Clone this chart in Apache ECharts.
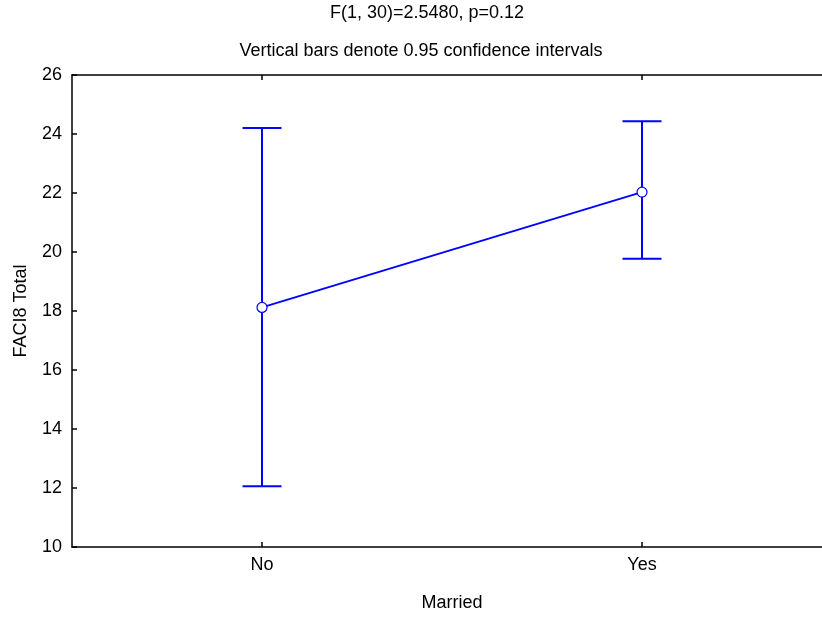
<!DOCTYPE html>
<html>
<head>
<meta charset="utf-8">
<script src="https://cdn.jsdelivr.net/npm/echarts@6/dist/echarts.min.js"></script>
<style>
  html, body { margin: 0; padding: 0; background: #fff; }
  #chart { width: 822px; height: 617px; }
</style>
</head>
<body>
<div id="chart"></div>
<script>
// Group means of FACI8 Total by marital status, with 95% confidence limits
const categories = ['No', 'Yes'];
const means = [18.12, 22.03];
const lowerCI = [12.06, 19.77];
const upperCI = [24.20, 24.43];
const yTicks = [10, 12, 14, 16, 18, 20, 22, 24, 26];

const BLUE = '#0000ff';
const FONT = 'Liberation Sans, Arial, sans-serif';
const FS = 18;

// category positions on a numeric x scale (0 = No, 1 = Yes)
const xPos = categories.map((c, i) => i);
const errorData = categories.map((c, i) => [xPos[i], lowerCI[i], upperCI[i]]);
const meanData = categories.map((c, i) => [xPos[i], means[i]]);

const X_MIN = -0.5;
const X_MAX = 1.4737;

const chart = echarts.init(document.getElementById('chart'), null, { renderer: 'canvas' });

const tickStyle = { inside: true, length: 5, lineStyle: { color: '#000', width: 1.5 } };
const lineStyle = { onZero: false, lineStyle: { color: '#000', width: 1.5 } };

chart.setOption({
  backgroundColor: '#fff',
  animation: false,
  title: [
    { text: 'F(1, 30)=2.5480, p=0.12', left: 422, top: -1, textAlign: 'center',
      textStyle: { fontFamily: FONT, fontSize: FS, fontWeight: 'normal', color: '#000' } },
    { text: 'Vertical bars denote 0.95 confidence intervals', left: 416, top: 37, textAlign: 'center',
      textStyle: { fontFamily: FONT, fontSize: FS, fontWeight: 'normal', color: '#000' } }
  ],
  grid: { left: 72, top: 75, right: 0, bottom: 70, containLabel: false },
  xAxis: [
    {
      type: 'value', min: X_MIN, max: X_MAX, position: 'bottom',
      name: 'Married', nameLocation: 'middle', nameGap: 47,
      nameTextStyle: { fontFamily: FONT, fontSize: FS, color: '#000', padding: [0, 0, 0, 10] },
      axisLine: lineStyle,
      axisTick: Object.assign({ customValues: xPos }, tickStyle),
      axisLabel: {
        customValues: xPos, fontFamily: FONT, fontSize: FS, color: '#000', margin: 9,
        formatter: v => categories[Math.round(v)]
      },
      splitLine: { show: false }
    },
    {
      type: 'value', min: X_MIN, max: X_MAX, position: 'top',
      axisLine: lineStyle,
      axisTick: Object.assign({ customValues: xPos }, tickStyle),
      axisLabel: { show: false },
      splitLine: { show: false }
    }
  ],
  yAxis: {
    type: 'value', min: yTicks[0], max: yTicks[yTicks.length - 1], interval: 2,
    name: 'FACI8 Total', nameLocation: 'middle', nameGap: 42, nameRotate: 90,
    nameTextStyle: { fontFamily: FONT, fontSize: FS, color: '#000' },
    axisLine: Object.assign({ show: true }, lineStyle),
    axisTick: Object.assign({ show: true }, tickStyle),
    axisLabel: { fontFamily: FONT, fontSize: FS, color: '#000', margin: 10 },
    splitLine: { show: false }
  },
  series: [
    {
      type: 'custom',
      data: errorData,
      z: 2,
      clip: false,
      renderItem: function (params, api) {
        const x = api.value(0);
        const lo = api.coord([x, api.value(1)]);
        const hi = api.coord([x, api.value(2)]);
        const half = 19.5;
        const style = { stroke: BLUE, lineWidth: 2, fill: null };
        return {
          type: 'group',
          children: [
            { type: 'line', shape: { x1: hi[0], y1: hi[1], x2: lo[0], y2: lo[1] }, style: style },
            { type: 'line', shape: { x1: hi[0] - half, y1: hi[1], x2: hi[0] + half, y2: hi[1] }, style: style },
            { type: 'line', shape: { x1: lo[0] - half, y1: lo[1], x2: lo[0] + half, y2: lo[1] }, style: style }
          ]
        };
      }
    },
    {
      type: 'line',
      data: meanData,
      z: 3,
      symbol: 'circle',
      symbolSize: 10,
      lineStyle: { color: BLUE, width: 1.8 },
      itemStyle: { color: '#fff', borderColor: BLUE, borderWidth: 1.2 }
    }
  ]
});
</script>
</body>
</html>
